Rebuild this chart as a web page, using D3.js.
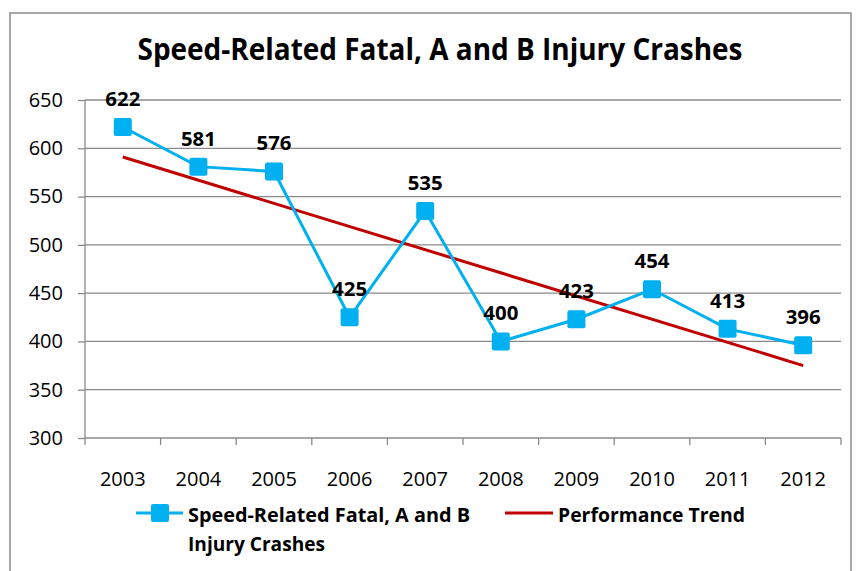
<!DOCTYPE html>
<html>
<head>
<meta charset="utf-8">
<script src="https://cdn.jsdelivr.net/npm/d3@7"></script>
<style>
  body { margin: 0; background: #fff; }
  text { font-family: "Open Sans", sans-serif; }
</style>
</head>
<body>
<div id="chart"></div>
<script>
// data
const years = ["2003", "2004", "2005", "2006", "2007", "2008", "2009", "2010", "2011", "2012"]
const crashes = [622, 581, 576, 425, 535, 400, 423, 454, 413, 396]
const trendYears = ["2003", "2012"]
const trendValues = [591, 375]
const yTicks = [300, 350, 400, 450, 500, 550, 600, 650]

const W = 860, H = 571
const m = { left: 85, right: 841, top: 100, bottom: 438 }

const svg = d3.select("#chart").append("svg")
    .attr("width", W)
    .attr("height", H)

// outer chart border
svg.append("rect")
    .attr("x", 10)
    .attr("y", 13)
    .attr("width", 841)
    .attr("height", 600)
    .attr("fill", "none")
    .attr("stroke", "#8c8c8c")
    .attr("stroke-width", 1.5)

svg.append("text")
    .attr("x", 440)
    .attr("y", 60)
    .attr("text-anchor", "middle")
    .attr("font-size", 30)
    .attr("font-weight", "bold")
    .attr("textLength", 605)
    .attr("lengthAdjust", "spacingAndGlyphs")
    .text("Speed-Related Fatal, A and B Injury Crashes")

const x = d3.scaleBand().domain(years).range([m.left, m.right])
const y = d3.scaleLinear().domain([300, 650]).range([m.bottom, m.top])

// gridlines
svg.append("g")
    .selectAll("line")
    .data(yTicks.slice(1))
    .join("line")
    .attr("x1", m.left)
    .attr("x2", m.right)
    .attr("y1", d => y(d))
    .attr("y2", d => y(d))
    .attr("stroke", "#8a8a8a")
    .attr("stroke-width", 1.3)

// y axis
const yAxis = svg.append("g")
    .attr("transform", `translate(${m.left},0)`)
    .call(d3.axisLeft(y).tickValues(yTicks).tickSize(7).tickPadding(15))
yAxis.selectAll("line, path").attr("stroke", "#8a8a8a").attr("stroke-width", 1.3)
yAxis.select(".domain").attr("d", `M0,${m.top}V${m.bottom}`)
yAxis.selectAll("text")
    .attr("font-size", 20)
    .attr("fill", "#000")
    .attr("font-family", "'Open Sans', sans-serif")

// x axis, ticks at category boundaries
const xAxis = svg.append("g")
    .attr("transform", `translate(0,${m.bottom})`)
xAxis.append("line")
    .attr("x1", m.left)
    .attr("x2", m.right)
    .attr("stroke", "#8a8a8a")
    .attr("stroke-width", 1.3)
xAxis.selectAll(".tk")
    .data(years.concat(["end"]))
    .join("line")
    .attr("class", "tk")
    .attr("x1", (d, i) => i < years.length ? x(d) : x.range()[1])
    .attr("x2", (d, i) => i < years.length ? x(d) : x.range()[1])
    .attr("y1", 0)
    .attr("y2", 7)
    .attr("stroke", "#8a8a8a")
    .attr("stroke-width", 1.3)
xAxis.selectAll(".lbl")
    .data(years)
    .join("text")
    .attr("class", "lbl")
    .attr("x", d => x(d) + x.bandwidth() / 2)
    .attr("y", 48)
    .attr("text-anchor", "middle")
    .attr("font-size", 20)
    .text(d => d)

const cx = d => x(d) + x.bandwidth() / 2

// trend line
svg.append("path")
    .datum(trendYears.map((d, i) => [cx(d), y(trendValues[i])]))
    .attr("d", d3.line())
    .attr("fill", "none")
    .attr("stroke", "#c00000")
    .attr("stroke-width", 3)

// data series
const pts = years.map((d, i) => [cx(d), y(crashes[i])])
svg.append("path")
    .datum(pts)
    .attr("d", d3.line())
    .attr("fill", "none")
    .attr("stroke", "#00b0f0")
    .attr("stroke-width", 3)

svg.selectAll(".mk")
    .data(pts)
    .join("rect")
    .attr("class", "mk")
    .attr("x", d => d[0] - 9)
    .attr("y", d => d[1] - 9)
    .attr("width", 18)
    .attr("height", 18)
    .attr("rx", 2)
    .attr("fill", "#00b0f0")

svg.selectAll(".val")
    .data(crashes)
    .join("text")
    .attr("class", "val")
    .attr("x", (d, i) => cx(years[i]))
    .attr("y", d => y(d) - 21)
    .attr("text-anchor", "middle")
    .attr("font-size", 20)
    .attr("font-weight", "bold")
    .attr("textLength", 35)
    .attr("lengthAdjust", "spacingAndGlyphs")
    .text(d => d)

// legend
const leg = svg.append("g")
leg.append("line")
    .attr("x1", 136).attr("x2", 183)
    .attr("y1", 513).attr("y2", 513)
    .attr("stroke", "#00b0f0").attr("stroke-width", 3)
leg.append("rect")
    .attr("x", 151).attr("y", 504)
    .attr("width", 18).attr("height", 18).attr("rx", 2)
    .attr("fill", "#00b0f0")
leg.append("text")
    .attr("x", 188).attr("y", 522)
    .attr("font-size", 20).attr("font-weight", "bold")
    .attr("textLength", 282).attr("lengthAdjust", "spacingAndGlyphs")
    .text("Speed-Related Fatal, A and B")
leg.append("text")
    .attr("x", 188).attr("y", 551)
    .attr("font-size", 20).attr("font-weight", "bold")
    .attr("textLength", 137).attr("lengthAdjust", "spacingAndGlyphs")
    .text("Injury Crashes")
leg.append("line")
    .attr("x1", 505).attr("x2", 553)
    .attr("y1", 513).attr("y2", 513)
    .attr("stroke", "#c00000").attr("stroke-width", 3)
leg.append("text")
    .attr("x", 558).attr("y", 522)
    .attr("font-size", 20).attr("font-weight", "bold")
    .attr("textLength", 187).attr("lengthAdjust", "spacingAndGlyphs")
    .text("Performance Trend")
</script>
</body>
</html>
